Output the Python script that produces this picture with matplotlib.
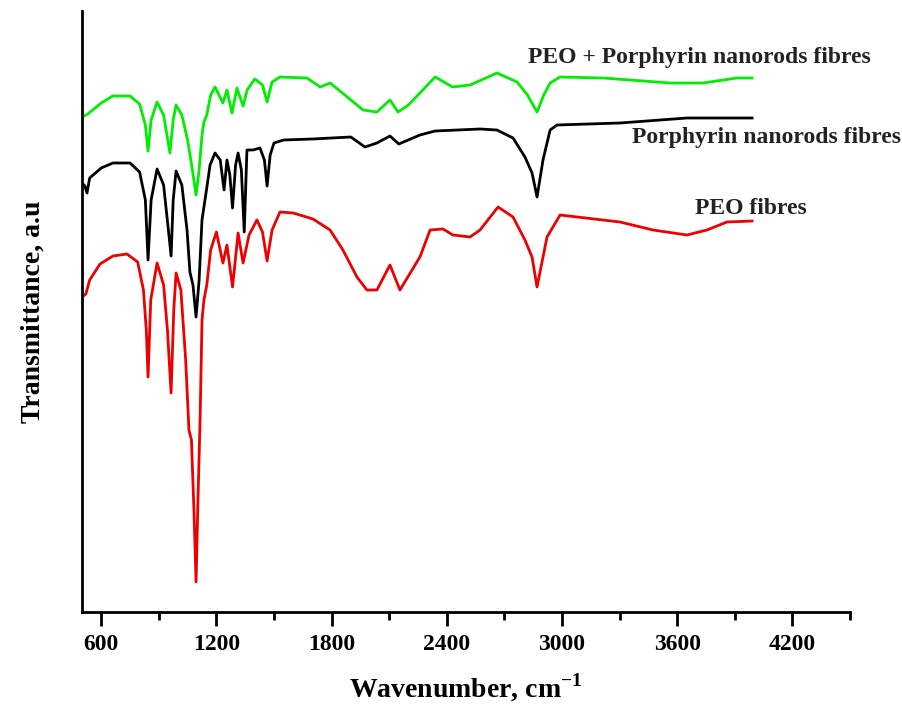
import numpy as np
import matplotlib
matplotlib.use('Agg')
import matplotlib.pyplot as plt
import matplotlib.ticker as mticker

plt.rcParams['font.family'] = ['Liberation Serif', 'DejaVu Serif']
plt.rcParams['mathtext.fontset'] = 'custom'
plt.rcParams['mathtext.bf'] = 'Liberation Serif:bold'

# ---- data (transmittance in arbitrary units) ----
wn_mix = [500, 530, 600, 660, 750, 800, 830, 844, 860, 891, 925, 958, 975, 990,
          1020, 1050, 1075, 1094, 1110, 1125, 1135, 1150, 1170, 1193, 1234, 1255,
          1281, 1307, 1339, 1360, 1400, 1440, 1464, 1490, 1531, 1672, 1740, 1792,
          1850, 1964, 2036, 2104, 2146, 2200, 2260, 2339, 2430, 2521, 2580, 2661,
          2766, 2820, 2870, 2905, 2938, 2990, 3214, 3563, 3734, 3911, 3990]
t_mix = [495, 498, 509, 516, 516, 508, 487, 461, 492, 510, 497, 459, 492, 507,
         497, 472, 442, 417, 442, 477, 490, 497, 517, 525, 509, 522,
         499, 524, 506, 522, 533, 527, 510, 530, 535, 534, 525, 529,
         520, 502, 500, 512, 500, 507, 519, 535, 525, 527, 532, 539,
         530, 517, 500, 517, 529, 535, 534, 529, 529, 534, 534]

wn_por = [500, 515, 526, 540, 600, 661, 750, 800, 830, 844, 860, 891, 925, 950,
          964, 975, 990, 1020, 1047, 1062, 1078, 1094, 1110, 1125, 1135, 1146,
          1167, 1193, 1220, 1240, 1255, 1270, 1284, 1300, 1313, 1330, 1345, 1359,
          1390, 1427, 1450, 1464, 1480, 1500, 1550, 1700, 1900, 1974, 2036, 2104,
          2150, 2260, 2339, 2573, 2661, 2745, 2807, 2844, 2870, 2901, 2938, 2974,
          3302, 3651, 3990]
t_por = [429, 426, 419, 434, 444, 449, 449, 440, 412, 352, 412, 443, 427, 382,
         356, 412, 441, 427, 382, 340, 327, 295, 332, 392, 405, 419,
         447, 459, 452, 422, 452, 437, 404, 447, 459, 442, 380, 462,
         462, 464, 452, 426, 457, 469, 472, 473, 475, 465, 469, 476,
         468, 477, 481, 483, 482, 474, 455, 439, 415, 452, 482, 487,
         489, 494, 494]

wn_peo = [500, 520, 540, 594, 661, 734, 790, 820, 835, 844, 858, 891, 925, 945,
          964, 978, 990, 1015, 1040, 1057, 1070, 1083, 1094, 1104, 1115, 1125,
          1135, 1150, 1170, 1200, 1234, 1255, 1284, 1313, 1339, 1370, 1411, 1440,
          1464, 1490, 1531, 1600, 1703, 1792, 1859, 1932, 1984, 2036, 2104, 2156,
          2260, 2313, 2380, 2432, 2521, 2573, 2667, 2745, 2807, 2844, 2870, 2922,
          2990, 3302, 3474, 3651, 3755, 3859, 3990]
t_peo = [315, 318, 332, 348, 356, 358, 350, 322, 282, 235, 312, 349, 327, 282,
         219, 302, 339, 322, 252, 182, 172, 102, 30, 112, 192, 292,
         312, 327, 362, 380, 349, 367, 325, 379, 349, 377, 392, 380,
         351, 382, 400, 399, 393, 382, 362, 335, 322, 322, 347, 322,
         355, 382, 383, 377, 375, 382, 405, 395, 372, 355, 325, 375,
         397, 390, 382, 377, 382, 390, 391]

series = [
    (wn_mix, t_mix, '#00ee00', 'PEO + Porphyrin nanorods fibres', 2823, 555),
    (wn_por, t_por, '#000000', 'Porphyrin nanorods fibres', 3365, 474),
    (wn_peo, t_peo, '#ee0000', 'PEO fibres', 3693, 404),
]

fig = plt.figure(figsize=(9.02, 7.11), dpi=100)
ax = fig.add_axes([82/902, 99/711, 768/902, 601/711])

for x, y, color, label, tx, ty in series:
    ax.plot(x, y, color=color, linewidth=2.0)
    ax.text(tx, ty, label, fontsize=17, fontweight='bold', color='#222222',
            ha='left', va='center')

ax.set_xlim(500, 4500)
ax.set_ylim(0, 601)
ax.xaxis.set_minor_locator(mticker.MultipleLocator(300))
ax.set_xticks(np.arange(600, 4201, 600))
ax.set_yticks([])
ax.tick_params(axis='x', which='major', direction='out', length=10, width=2,
               labelsize=17, pad=6)
ax.tick_params(axis='x', which='minor', direction='out', length=6, width=2)
for lab in ax.get_xticklabels():
    lab.set_fontweight('bold')
ax.spines['top'].set_visible(False)
ax.spines['right'].set_visible(False)
ax.spines['left'].set_linewidth(2)
ax.spines['bottom'].set_linewidth(2)

ax.set_xlabel('Wavenumber, cm$^{\\mathbf{-1}}$', fontsize=20, fontweight='bold',
              labelpad=12)
ax.set_ylabel('Transmittance, a.u', fontsize=20, fontweight='bold', labelpad=26)

fig.savefig('out.png', dpi=100)
